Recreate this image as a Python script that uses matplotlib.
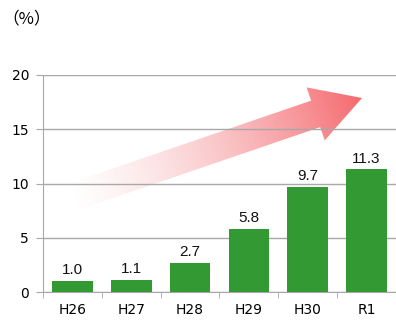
import numpy as np
import matplotlib.pyplot as plt
from matplotlib.patches import Polygon

years = ['H26', 'H27', 'H28', 'H29', 'H30', 'R1']
rates = [1.0, 1.1, 2.7, 5.8, 9.7, 11.3]

W, H = 396, 322
fig = plt.figure(figsize=(W / 100, H / 100), dpi=100)

# background layer in pixel coords for the gradient arrow
bg = fig.add_axes([0, 0, 1, 1])
bg.set_xlim(0, W)
bg.set_ylim(H, 0)
bg.axis('off')

start = np.array([70.0, 198.0])
tip = np.array([362.0, 98.0])
u = (tip - start) / np.linalg.norm(tip - start)
n = np.array([-u[1], u[0]])
head_len, head_hw, shaft_hw = 49, 28, 14
base = tip - head_len * u
pts = [start + shaft_hw * n, base + shaft_hw * n, base + head_hw * n, tip,
       base - head_hw * n, base - shaft_hw * n, start - shaft_hw * n]
poly = Polygon(pts, closed=True, facecolor='none', edgecolor='none')
bg.add_patch(poly)

xx, yy = np.meshgrid(np.arange(W) + 0.5, np.arange(H) + 0.5)
t = ((xx - start[0]) * u[0] + (yy - start[1]) * u[1]) / np.linalg.norm(tip - start)
t = np.clip(t, 0, 1)
img = np.zeros((H, W, 4))
img[..., 0] = 0.96
img[..., 1] = 0.38 + 0.2 * (1 - t)
img[..., 2] = 0.40 + 0.2 * (1 - t)
img[..., 3] = t ** 1.2 * 0.95
im = bg.imshow(img, extent=[0, W, H, 0], interpolation='bilinear')
im.set_clip_path(poly)

ax = fig.add_axes([43 / W, 30 / H, (W - 43) / W, 217 / H])
ax.patch.set_alpha(0)
x = np.arange(len(years))
ax.bar(x, rates, width=0.69, color='#339a33', zorder=3)
for xi, v in zip(x, rates):
    ax.text(xi, v + 0.35, f'{v:.1f}', ha='center', va='bottom', fontsize=11,
            color='#111111', family='Liberation Sans')

ax.set_xlim(-0.5, len(years) - 0.5)
ax.set_ylim(0, 20)
ax.set_yticks([0, 5, 10, 15, 20])
ax.yaxis.grid(True, color='#a8a8a8', linewidth=1, zorder=0)
ax.set_axisbelow(True)
ax.set_xticks(x)
ax.set_xticklabels(years, fontsize=10)
ax.set_xticks(np.arange(len(years) + 1) - 0.5, minor=True)
ax.tick_params(axis='x', which='major', length=0, pad=8)
ax.tick_params(axis='x', which='minor', length=4, color='#a8a8a8')
ax.tick_params(axis='y', length=5, color='#a8a8a8', labelsize=10, pad=5)
for s in ['top', 'right']:
    ax.spines[s].set_visible(False)
for s in ['left', 'bottom']:
    ax.spines[s].set_color('#a8a8a8')

fig.text(2 / W, 1 - 19 / H, '（%）', fontsize=12, va='center', ha='left',
         family=['Noto Sans CJK JP', 'DejaVu Sans'])

fig.savefig('out.png', dpi=100)
